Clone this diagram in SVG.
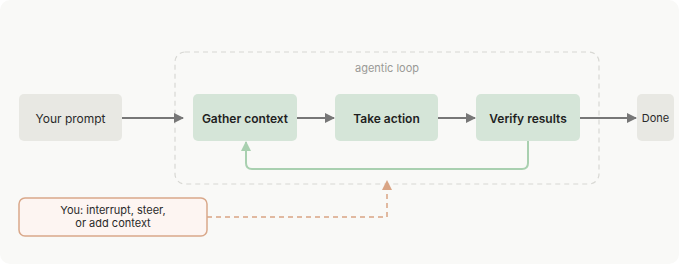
<svg xmlns="http://www.w3.org/2000/svg" width="679" height="264" viewBox="0 0 679 264">
<style>
.t{font-family:"Inter","Liberation Sans",sans-serif;text-anchor:middle;dominant-baseline:central}
.n{font-size:12px;fill:#2a2a2a}
.b{font-size:12px;font-weight:600;fill:#1f1f1f}
.s{font-size:11px;fill:#2a2a2a}
.g{fill:#e8e8e3}
.gr{fill:#d5e5d8}
.c{fill:none;stroke:#777;stroke-width:2}
</style>
<defs>
<marker id="ah" viewBox="0 0 10 10" refX="9" refY="5" markerWidth="10" markerHeight="10" markerUnits="userSpaceOnUse" orient="auto"><path d="M0,0L10,5L0,10z" fill="#777"/></marker>
<marker id="ahg" viewBox="0 0 10 10" refX="9" refY="5" markerWidth="10" markerHeight="10" markerUnits="userSpaceOnUse" orient="auto"><path d="M0,0L10,5L0,10z" fill="#a9d0b0"/></marker>
<marker id="aho" viewBox="0 0 10 10" refX="9" refY="5" markerWidth="10" markerHeight="10" markerUnits="userSpaceOnUse" orient="auto"><path d="M0,0L10,5L0,10z" fill="#d9a484"/></marker>
</defs>
<rect x="0" y="0" width="679" height="264" rx="10" fill="#f9f9f7"/>
<g id="loop">
<rect x="175" y="52" width="424" height="132" rx="10" fill="none" stroke="#d8d8d4" stroke-width="1.2" stroke-dasharray="5 4"/>
<text class="t" x="387" y="68" font-size="11" fill="#9a9a96">agentic loop</text>
</g>
<g id="connectors">
<path class="c" d="M122,118H183" marker-end="url(#ah)"/>
<path class="c" d="M297,118H334" marker-end="url(#ah)"/>
<path class="c" d="M438,118H475" marker-end="url(#ah)"/>
<path class="c" d="M580,118H636" marker-end="url(#ah)"/>
<path d="M528,141V163Q528,169 522,169H252Q246,169 246,163V142" fill="none" stroke="#a9d0b0" stroke-width="2" marker-end="url(#ahg)"/>
<path d="M207,217H387V181" fill="none" stroke="#d9a484" stroke-width="1.5" stroke-dasharray="5 4" marker-end="url(#aho)"/>
</g>
<g id="prompt"><rect class="g" x="19" y="94" width="103" height="47" rx="5"/><text class="t n" x="70.5" y="118">Your prompt</text></g>
<g id="gather"><rect class="gr" x="193" y="94" width="104" height="47" rx="5"/><text class="t b" x="245" y="118">Gather context</text></g>
<g id="action"><rect class="gr" x="335" y="94" width="103" height="47" rx="5"/><text class="t b" x="386.5" y="118">Take action</text></g>
<g id="verify"><rect class="gr" x="476" y="94" width="104" height="47" rx="5"/><text class="t b" x="528" y="118">Verify results</text></g>
<g id="done"><rect class="g" x="637" y="94" width="37" height="47" rx="5"/><text class="t s" x="655.5" y="118">Done</text></g>
<g id="you"><rect x="19" y="198" width="188" height="38" rx="6" fill="#fdf5f2" stroke="#d9a88a" stroke-width="1.5"/>
<text class="t s" x="113" y="210">You: interrupt, steer,</text>
<text class="t s" x="113" y="223">or add context</text></g>
</svg>
